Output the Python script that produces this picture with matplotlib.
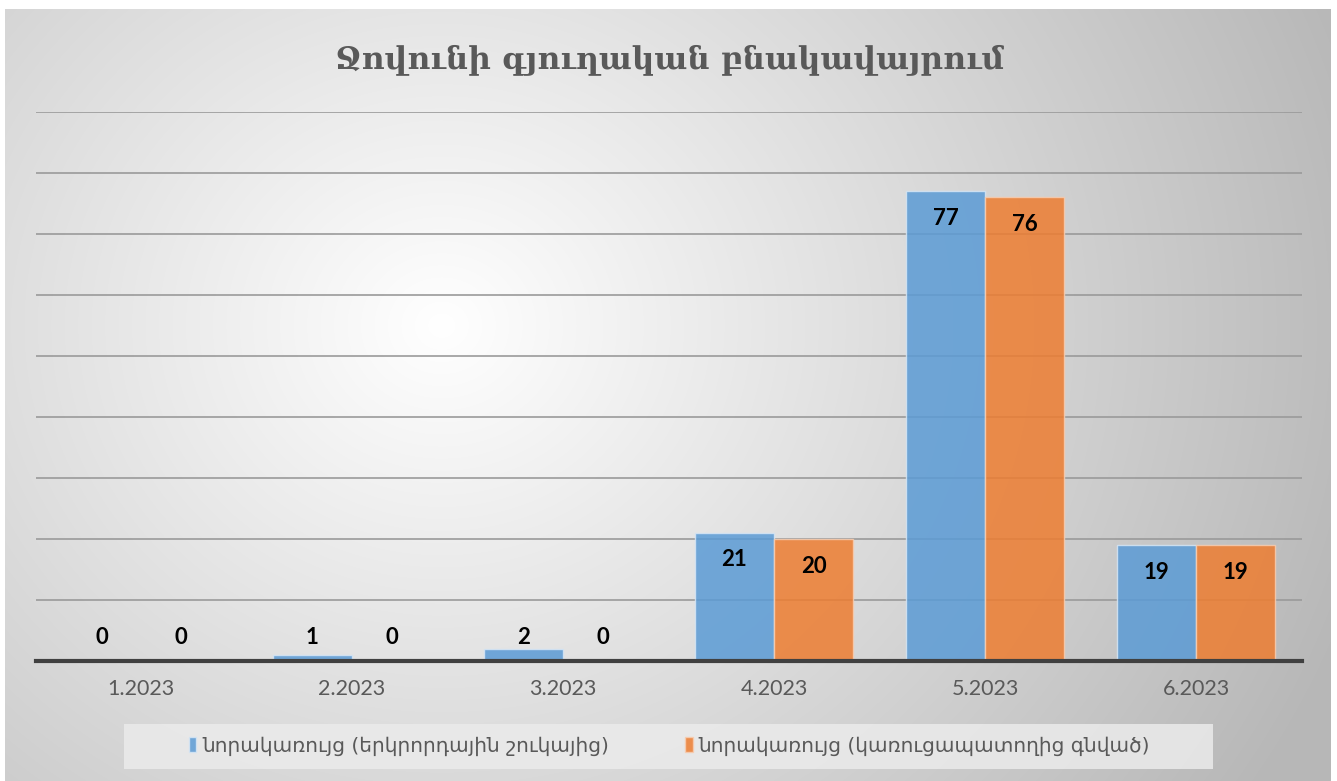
import numpy as np
import matplotlib.pyplot as plt
from matplotlib.patches import Rectangle, Patch

# data
months = ['1.2023', '2.2023', '3.2023', '4.2023', '5.2023', '6.2023']
secondary = [0, 1, 2, 21, 77, 19]
new_build = [0, 0, 0, 20, 76, 19]
series_names = ['նորակառույց (երկրորդային շուկայից)', 'նորակառույց (կառուցապատողից գնված)']
title = 'Ջովունի գյուղական բնակավայրում'

W, H = 1337, 781
fig = plt.figure(figsize=(W / 100, H / 100), dpi=100)
fig.patch.set_facecolor('white')

# radial gradient background panel
bg = fig.add_axes([0, 0, 1, 1], zorder=-10)
yy, xx = np.mgrid[0:H, 0:W]
r = np.sqrt(((xx - 440) / 1.0) ** 2 + ((yy - 320) / 0.9) ** 2) / 900.0
shade = np.clip(1.0 - 0.26 * r, 0.72, 1.0)
img = np.dstack([shade, shade, shade])
bg.imshow(img, extent=[5, 1331, H, 9], aspect='auto', interpolation='bilinear')
bg.set_xlim(0, W)
bg.set_ylim(H, 0)
bg.axis('off')
# legend box
bg.add_patch(Rectangle((124, 724), 1089, 45, facecolor='#ebebeb', edgecolor='none', alpha=0.85))

ax = fig.add_axes([35.5 / W, 120 / H, 1266 / W, 549 / H])
ax.patch.set_alpha(0)

x = np.arange(len(months))
bw = 0.375
blue = '#5b9bd5'
orange = '#ed7d31'
b1 = ax.bar(x - bw / 2, secondary, bw, color=blue, alpha=0.85, edgecolor='#d6e6f5', linewidth=1, zorder=3)
b2 = ax.bar(x + bw / 2, new_build, bw, color=orange, alpha=0.85, edgecolor='#f7cdb1', linewidth=1, zorder=3)

ax.set_xlim(-0.5, len(months) - 0.5)
ax.set_ylim(0, 90)
ax.set_yticks(np.arange(10, 91, 10))
ax.yaxis.grid(True, color='#9a9a9a', linewidth=1.2, zorder=1)
ax.tick_params(axis='y', left=False, labelleft=False)
ax.set_xticks(x)
ax.set_xticklabels(months, color='#595959', fontsize=15.5, family=['Lato', 'DejaVu Sans'])
ax.tick_params(axis='x', length=0, pad=13)
for s in ['top', 'right', 'left']:
    ax.spines[s].set_visible(False)
ax.spines['bottom'].set_color('#404040')
ax.spines['bottom'].set_linewidth(3)
ax.spines['bottom'].set_zorder(5)

# data labels
for xs, vals in [(x - bw / 2, secondary), (x + bw / 2, new_build)]:
    for xi, v in zip(xs, vals):
        if v > 9:
            ax.annotate(str(v), (xi, v), xytext=(0, -19.5), textcoords='offset points',
                        ha='center', va='center', fontsize=16, fontweight='bold',
                        family=['Lato', 'DejaVu Sans'], color='black', zorder=6)
        else:
            ax.annotate(str(v), (xi, 0), xytext=(0, 17), textcoords='offset points',
                        ha='center', va='center', fontsize=16, fontweight='bold',
                        family=['Lato', 'DejaVu Sans'], color='black', zorder=6)

fig.text(670 / W, 1 - 60 / H, title, ha='center', va='center', fontsize=22.5,
         fontweight='bold', color='#595959', family='DejaVu Serif')

handles = [Patch(facecolor=blue, alpha=0.85, edgecolor='#d6e6f5'),
           Patch(facecolor=orange, alpha=0.85, edgecolor='#f7cdb1')]
fig.legend(handles, series_names, loc='center', bbox_to_anchor=(669.5 / W, 1 - 746 / H),
           ncol=2, frameon=False, handlelength=0.35, handleheight=0.75,
           handletextpad=0.3, columnspacing=3.8, labelcolor='#595959',
           prop={'family': 'DejaVu Sans', 'size': 14.5})

fig.savefig('out.png', dpi=100)
